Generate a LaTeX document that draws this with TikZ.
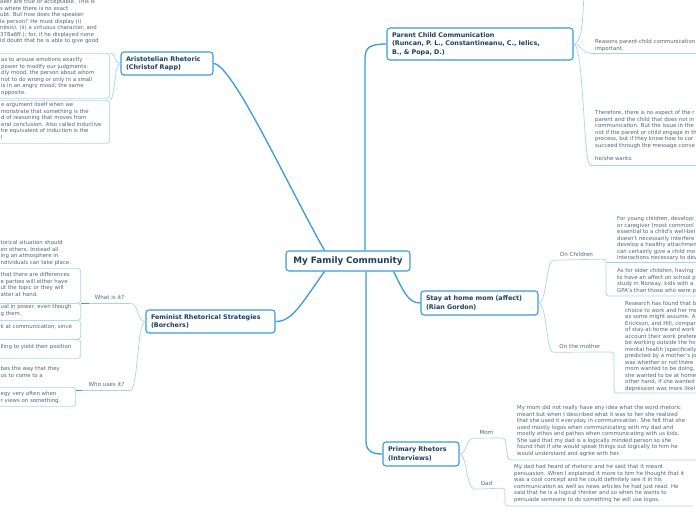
\documentclass[tikz,border=0pt]{standalone}
\usepackage{fontspec}
\setmainfont{DejaVu Sans}
\usepackage{xcolor}
\definecolor{famline}{HTML}{3A9BDC}
\definecolor{famsub}{HTML}{A8D3F0}
\definecolor{famtitle}{HTML}{1B3F5F}
\definecolor{famnote}{HTML}{4F6579}
\usepackage{tikz}
\usetikzlibrary{calc}

\newcommand{\notefont}{\fontsize{5.4}{6.5}\selectfont}
\newcommand{\tagfont}{\fontsize{5.6}{6.5}\selectfont}
\newcommand{\topicfont}{\fontsize{6.4}{8.4}\selectfont\bfseries}
\newcommand{\centerfont}{\fontsize{8.8}{10}\selectfont\bfseries}

\begin{document}
\begin{tikzpicture}[x=1pt,y=-1pt,
  topic/.style={draw=famline,line width=1.1pt,rounded corners=3pt,fill=white,text=famtitle,font=\topicfont,align=left,inner xsep=5pt,inner ysep=3pt},
  central/.style={topic,font=\centerfont,align=center,text width=114pt,minimum height=20pt},
  tag/.style={text=famnote,font=\tagfont,text height=4pt,text depth=1pt,inner xsep=6pt,inner ysep=2.5pt},
  note/.style={text=famnote,font=\notefont,align=left,inner sep=0pt,anchor=north west},
  notebox/.style={draw=famsub,line width=0.7pt,rounded corners=3pt,inner sep=0pt,anchor=north east},
  boxline/.style={draw=famsub,line width=0.7pt,rounded corners=3pt},
  mainlink/.style={draw=famline,line width=1.3pt},
  sublink/.style={draw=famsub,line width=0.7pt}]
\useasboundingbox (0,0) rectangle (696,520);
\clip (0,0) rectangle (696,520);

% topics
\node[central] (main) at (348,261) {My Family Community};
\node[topic,text width=82pt,minimum height=23pt] (arist) at (167,63.5) {Aristotelian Rhetoric\\(Christof Rapp)};
\node[topic,text width=176pt,minimum height=32pt] (parent) at (480,44) {Parent Child Communication\\(Runcan, P. L., Constantineanu, C., Ielics,\\B., \& Popa, D.)};
\node[topic,text width=119pt,minimum height=23pt] (fem) at (210.5,321.5) {Feminist Rhetorical Strategies\\(Borchers)};
\node[topic,text width=107pt,minimum height=24pt] (stay) at (479.5,303) {Stay at home mom (affect)\\(Rian Gordon)};
\node[topic,text width=66pt,minimum height=24pt] (prim) at (421,454) {Primary Rhetors\\(Interviews)};

% subtopics
\node[tag] (whatis) at (109.5,298) {What is it?};
\node[tag] (whouses) at (106.5,385) {Who uses it?};
\node[tag] (onchild) at (576.5,255) {On Children};
\node[tag] (onmother) at (580,347) {On the mother};
\node[tag] (mom) at (486.5,433) {Mom};
\node[tag] (dad) at (486.5,484) {Dad};

% left notes
\node[notebox,minimum width=160pt,minimum height=45pt] (emobox) at (110,53) {};
\node[notebox,minimum width=160pt,minimum height=43pt] (indbox) at (110,100) {};
\node[notebox,minimum width=130pt,minimum height=35pt] (boxa) at (81,268) {};
\node[notebox,minimum width=130pt,minimum height=17pt] (boxb) at (81,303) {};
\node[notebox,minimum width=130pt,minimum height=19pt] (boxc) at (81,320) {};
\node[notebox,minimum width=130pt,minimum height=19pt] (boxd) at (81,339) {};
\node[notebox,minimum width=130pt,minimum height=19pt] (whobox) at (76,387) {};

\node[note] (ethos) at (0,-0.6) {aker are true or acceptable. This is\\s where there is no exact\\ubt. But how does the speaker\\le person? He must display (i)\\nēsis), (ii) a virtuous character, and\\378a6ff.); for, if he displayed none\\ld doubt that he is able to give good};
\node[note] (pathos) at (1,57.4) {as to arouse emotions exactly\\ power to modify our judgments:\\dly mood, the person about whom\\ not to do wrong or only in a small\\ is in an angry mood, the same\\opposite.};
\node[note] (logos) at (1,102.4) {e argument itself when we\\monstrate that something is the\\d of reasoning that moves from\\eral conclusion. Also called inductive\\he equivalent of induction is the\\l};
\node[note] (femtop) at (0.5,240.4) {torical situation should\\en others. Instead all\\ing an atmosphere in\\ndividuals can take place.};
\node[note] (femdiff) at (0.5,272.4) {that there are differences\\e parties will either have\\ut the topic or they will\\atter at hand.};
\node[note] (femequal) at (0.5,304.4) {ual in power, even though\\g them.};
\node[note] (femlook) at (0.5,324.4) {k at communication, since};
\node[note] (femyield) at (0.5,344.4) {lling to yield their position};
\node[note] (femway) at (0.5,366.4) {bes the way that they\\ us to come to a};
\node[note] (femoften) at (0.5,391.4) {egy very often when\\r views on something.};

% right notes
\node[note] (reasons) at (595,39.4) {Reasons parent-child communication\\important.};
\node[note] (therefore) at (595,110.4) {Therefore, there is no aspect of the r\\parent and the child that does not in\\communication. But the issue in the\\not if the parent or child engage in th\\process, but if they know how to cor\\succeed through the message conve\\[6.5pt]he/she wants.};
\node[note] (young) at (617,216.4) {For young children, developi\\or caregiver (most commonl\\essential to a child's well-bei\\doesn't necessarily interfere\\develop a healthy attachmen\\can certainly give a child mo\\interactions necessary to dev};
\node[note] (older) at (617,268.4) {As for older children, having\\to have an affect on school p\\study in Norway, kids with a\\GPA's than those who were p};
\node[note] (mother) at (625,301.4) {Research has found that b\\choice to work and her me\\as some might assume. A\\Erickson, and Hill, compar\\of stay-at-home and work\\account their work prefere\\be working outside the ho\\mental health (specifically\\predicted by a mother's jo\\was whether or not there\\mom wanted to be doing,\\she wanted to be at home\\other hand, if she wanted\\depression was more likel};
\node[note] (momtalk) at (517,405.4) {My mom did not really have any idea what the word rhetoric\\meant but when I described what it was to her she realized\\that she used it everyday in communication. She felt that she\\used mostly logos when communicating with my dad and\\mostly ethos and pathos when communicating with us kids.\\She said that my dad is a logically minded person so she\\found that if she would speak things out logically to him he\\would understand and agree with her.};
\node[note] (dadtalk) at (514,464.4) {My dad had heard of rhetoric and he said that it meant\\persuasion. When I explained it more to him he thought that it\\was a cool concept and he could definitely see it in his\\communication as well as news articles he had just read. He\\said that he is a logical thinker and so when he wants to\\persuade someone to do something he will use logos.};

\coordinate (parup) at (584,-10);
\coordinate (reasonsln) at (590,53);
\coordinate (thereln) at (590,165);

% main branches
\draw[mainlink] ($(main.north west)+(39,0)$) .. controls (285,180) and (232,64) .. (arist.east);
\draw[mainlink] ($(main.north)+(17,0)$) -- (365,58) .. controls (365,47) and (371,44) .. (parent.west);
\draw[mainlink] ($(main.south west)+(39,0)$) .. controls (300,306) and (292,321.5) .. (fem.east);
\draw[mainlink] ($(main.south east)+(-17,0)$) .. controls (404,292) and (408,303) .. (stay.west);
\draw[mainlink] ($(main.south)+(18,0)$) -- (366,441) .. controls (366,451) and (372,454) .. (prim.west);

% sub branches
\draw[sublink] (arist.west) .. controls (114,63.5) and (116,53) .. (emobox.north east);
\draw[sublink] (arist.west) .. controls (114,63.5) and (115,100) .. (indbox.north east);
\draw[sublink] (fem.west) .. controls (137,321.5) and (138,303) .. (whatis.south east);
\draw[sublink] (fem.west) .. controls (137,321.5) and (138,390) .. (whouses.south east);
\draw[mainlink,line width=0.9pt] (boxa.east |- whatis.south) -- (whatis.south west);
\draw[sublink] (whatis.south west) -- (whatis.south east);
\draw[mainlink,line width=0.9pt] (whobox.east |- whouses.south) -- (whouses.south west);
\draw[sublink] (whouses.south west) -- (whouses.south east);
\draw[sublink] (parent.east) .. controls (582,44) and (583,20) .. (parup);
\draw[sublink] (parent.east) .. controls (581,44) and (582,53) .. (reasonsln);
\draw[sublink] (parent.east) .. controls (584,44) and (583,160) .. (thereln);
\draw[boxline] (reasonsln) -- (700,53);
\draw[boxline] (thereln) -- (700,165);
\draw[sublink] (stay.east) .. controls (547,303) and (546,259) .. (onchild.south west);
\draw[sublink] (stay.east) .. controls (547,303) and (546,352) .. (onmother.south west);
\draw[boxline] (onchild.south west) -- (606,259) -- (606,296) -- (700,296);
\draw[sublink] (606,262) -- (700,262);
\draw[boxline] (onmother.south west) -- (614,352) -- (614,393) -- (700,393);
\draw[sublink] (prim.east) .. controls (467,454) and (466,438) .. (mom.south west);
\draw[sublink] (prim.east) .. controls (467,454) and (466,488) .. (dad.south west);
\draw[boxline] (mom.south west) -- (505,438) -- (508,460) -- (700,460);
\draw[boxline] (dad.south west) -- (505,488) -- (505,506) -- (693,506);
\end{tikzpicture}
\end{document}
